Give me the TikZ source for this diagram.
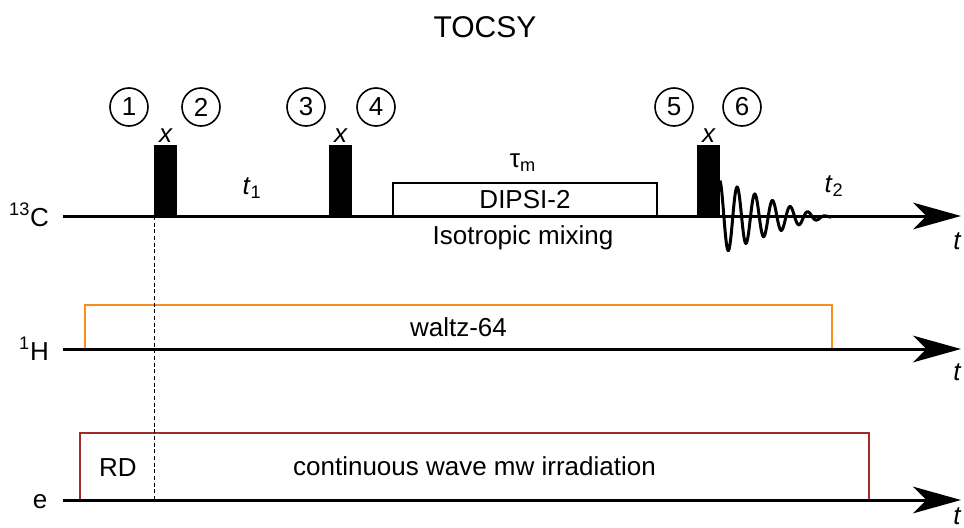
\documentclass[tikz,border=0pt]{standalone}
\usepackage{fontspec}
\setmainfont{Liberation Sans}
\usetikzlibrary{positioning,arrows.meta}

\definecolor{waltzorange}{RGB}{247,143,30}
\definecolor{mwred}{RGB}{158,42,42}

\tikzset{
  axis/.style={line width=2.25pt, -{Stealth[length=36pt,width=20pt,inset=10pt]}},
  pulse/.style={fill=black, inner sep=0pt, outer sep=0pt, minimum width=17.25pt, minimum height=53.25pt, anchor=south west},
  stepnum/.style={draw, circle, line width=1.2pt, minimum size=28.5pt, inner sep=0pt},
  blockbox/.style={draw, line width=1.3pt, inner sep=0pt, outer sep=0pt, anchor=south west},
  phase/.style={above=2pt of #1, inner sep=0pt, font=\fontsize{19.5}{23}\selectfont\itshape},
  timelbl/.style={inner sep=0pt, font=\fontsize{19.5}{23}\selectfont\itshape},
}

\begin{document}
\begin{tikzpicture}[x=0.75pt,y=-0.75pt, every node/.style={font=\fontsize{19.5}{23}\selectfont}]
  \useasboundingbox (0,0) rectangle (964,528);
  \node[font=\fontsize{22.5}{27}\selectfont] (title) at (485,27) {TOCSY};

  \node[blockbox, minimum width=198pt, minimum height=24.75pt] (dipsi) at (393,216) {DIPSI-2};
  \node[blockbox, draw=waltzorange, minimum width=560.25pt, minimum height=33pt] (waltz) at (85,349) {waltz-64};
  \node[blockbox, draw=mwred, minimum width=591.75pt, minimum height=50.25pt] (cw) at (80,500) {continuous wave mw irradiation};
  \node (rd) at (118,468) {RD};

  \coordinate (aC0) at (63,216);
  \coordinate (aC1) at (961,216);
  \coordinate (aH0) at (63,349);
  \coordinate (aH1) at (961,349);
  \coordinate (ae0) at (63,500);
  \coordinate (ae1) at (961,500);
  \draw[axis] (aC0) -- (aC1);
  \draw[axis] (aH0) -- (aH1);
  \draw[axis] (ae0) -- (ae1);

  \node[anchor=base] (lC) at (29,226) {\textsuperscript{13}C};
  \node[anchor=base] (lH) at (34,360) {\textsuperscript{1}H};
  \node[anchor=base] (le) at (40,508) {e};
  \node[timelbl] (tC) at (957,241) {t};
  \node[timelbl] (tH) at (957,372) {t};
  \node[timelbl] (te) at (957,516) {t};

  \node[pulse] (p1) at (154,216) {};
  \node[pulse] (p2) at (329,216) {};
  \node[pulse] (p3) at (697,216) {};
  \node[phase=p1] (x1) {x};
  \node[phase=p2] (x2) {x};
  \node[phase=p3] (x3) {x};

  \node[stepnum] (c1) at (129,107) {1};
  \node[stepnum] (c2) at (201,107) {2};
  \node[stepnum] (c3) at (306,107) {3};
  \node[stepnum] (c4) at (376,107) {4};
  \node[stepnum] (c5) at (674,107) {5};
  \node[stepnum] (c6) at (742,107) {6};

  \node (tone) at (252,188) {\textit{t}\textsubscript{1}};
  \node (ttwo) at (834,186) {\textit{t}\textsubscript{2}};
  \node (taum) at (523,163) {τ\textsubscript{m}};
  \node (iso) at (523,238) {Isotropic mixing};

  \draw[line width=2.25pt] plot[domain=0:111, samples=250, smooth] ({720+\x},{217-37*(1-\x/113)^1.3*cos(20.34*(\x+0.5))});

  \coordinate (de) at (154,500);
  \draw[line width=0.75pt, dash pattern=on 3pt off 2pt] (p1.south west) -- (de);
\end{tikzpicture}
\end{document}
